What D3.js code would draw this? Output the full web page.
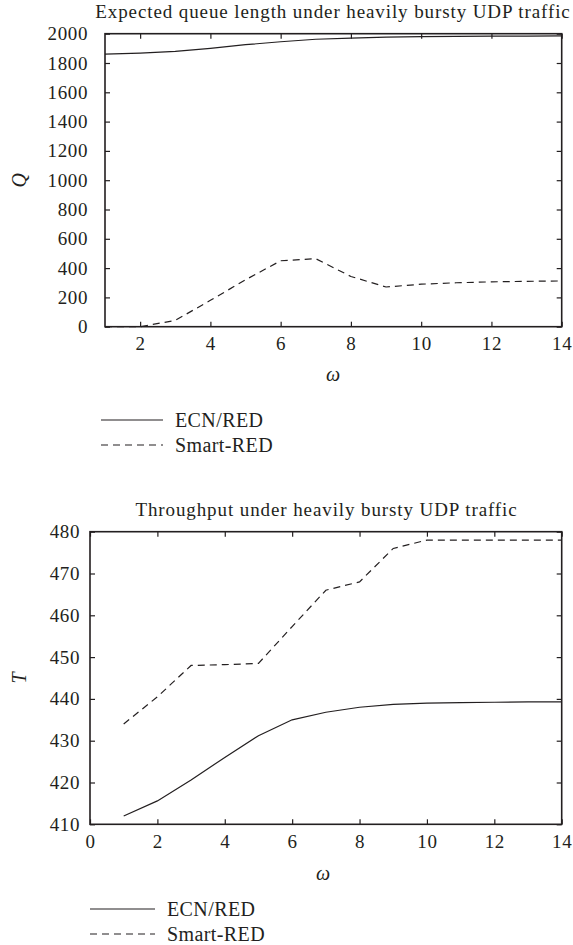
<!DOCTYPE html>
<html>
<head>
<meta charset="utf-8">
<script src="https://cdn.jsdelivr.net/npm/d3@7"></script>
<style>
  body { margin: 0; background: #fff; }
</style>
</head>
<body>
<div id="wrapper"></div>
<script>
// queue length chart
const omegaQ = [1, 2, 3, 4, 5, 6, 7, 8, 9, 10, 11, 12, 13, 14]
const queueEcn = [1860, 1868, 1880, 1900, 1925, 1945, 1962, 1970, 1977, 1980, 1982, 1983, 1984, 1985]
const queueSmart = [0, 0, 43, 180, 320, 450, 464, 343, 271, 290, 300, 306, 310, 312]
const queueTicksY = [0, 200, 400, 600, 800, 1000, 1200, 1400, 1600, 1800, 2000]
const queueTicksX = [2, 4, 6, 8, 10, 12, 14]

// throughput chart
const omegaT = [1, 2, 3, 4, 5, 6, 7, 8, 9, 10, 11, 12, 13, 14]
const thrEcn = [412, 415.6, 420.6, 426, 431.2, 435, 436.8, 438, 438.7, 439, 439.1, 439.2, 439.3, 439.3]
const thrSmart = [434, 440.5, 448, 448.2, 448.5, 457.3, 466, 468, 476, 478, 478, 478, 478, 478]
const thrTicksY = [410, 420, 430, 440, 450, 460, 470, 480]
const thrTicksX = [0, 2, 4, 6, 8, 10, 12, 14]

const seriesNames = ["ECN/RED", "Smart-RED"]
const serif = "'Liberation Serif', 'DejaVu Serif', serif"
const ink = "#231f20"

const wrapper = d3.select("#wrapper")
  .append("svg")
    .attr("width", 573)
    .attr("height", 945)
    .style("font-family", serif)

function drawPanel(cfg) {
  const xScale = d3.scaleLinear().domain(cfg.xDomain).range([cfg.left, cfg.right])
  const yScale = d3.scaleLinear().domain(cfg.yDomain).range([cfg.bottom, cfg.top])
  const g = wrapper.append("g")
  const tickLen = 5

  // bottom axis, ticks pointing up into the plot
  const xAxis = g.append("g")
    .attr("transform", `translate(0,${cfg.bottom})`)
    .call(d3.axisBottom(xScale).tickValues(cfg.xTicks).tickSize(-tickLen).tickPadding(10).tickFormat(d3.format("d")))
  // left axis, ticks pointing right
  const yAxis = g.append("g")
    .attr("transform", `translate(${cfg.left},0)`)
    .call(d3.axisLeft(yScale).tickValues(cfg.yTicks).tickSize(-tickLen).tickPadding(cfg.yPad).tickFormat(d3.format("d")))
  // mirror ticks on top and right
  const xTop = g.append("g")
    .attr("transform", `translate(0,${cfg.top})`)
    .call(d3.axisTop(xScale).tickValues(cfg.xTicks).tickSize(-tickLen).tickFormat(""))
  const yRight = g.append("g")
    .attr("transform", `translate(${cfg.right},0)`)
    .call(d3.axisRight(yScale).tickValues(cfg.yTicks).tickSize(-tickLen).tickFormat(""))

  ;[xAxis, yAxis, xTop, yRight].forEach(a => {
    a.attr("font-family", serif).attr("font-size", 19)
    a.select(".domain").remove()
    a.selectAll("line").attr("stroke", ink).attr("stroke-width", 1.2)
    a.selectAll("text").attr("fill", ink).style("letter-spacing", "0.6px")
  })

  g.append("rect")
    .attr("x", cfg.left).attr("y", cfg.top)
    .attr("width", cfg.right - cfg.left).attr("height", cfg.bottom - cfg.top)
    .attr("fill", "none").attr("stroke", ink).attr("stroke-width", 1.6)

  const line = d3.line().x(d => xScale(d[0])).y(d => yScale(d[1]))
  g.append("path")
    .attr("d", line(d3.zip(cfg.xs, cfg.ecn)))
    .attr("fill", "none").attr("stroke", ink).attr("stroke-width", 1.2)
  g.append("path")
    .attr("d", line(d3.zip(cfg.xs, cfg.smart)))
    .attr("fill", "none").attr("stroke", ink).attr("stroke-width", 1.2)
    .attr("stroke-dasharray", "7,5")

  g.append("text")
    .attr("x", cfg.titleX).attr("y", cfg.top - 16)
    .attr("text-anchor", "middle").attr("fill", ink)
    .style("font-size", "19px").style("letter-spacing", "0.9px")
    .text(cfg.title)

  g.append("text")
    .attr("transform", `translate(26,${(cfg.top + cfg.bottom) / 2}) rotate(-90)`)
    .attr("text-anchor", "middle").attr("fill", ink)
    .style("font-size", "20px").style("font-style", "italic")
    .text(cfg.yLabel)

  g.append("text")
    .attr("x", cfg.omegaX).attr("y", cfg.bottom + cfg.omegaDy)
    .attr("text-anchor", "middle").attr("fill", ink)
    .style("font-size", "20px").style("font-style", "italic")
    .text("ω")

  // legend
  seriesNames.forEach((name, i) => {
    const ly = cfg.legendY + i * 25
    g.append("line")
      .attr("x1", cfg.legendX).attr("x2", cfg.legendX + cfg.legendLen)
      .attr("y1", ly).attr("y2", ly)
      .attr("stroke", ink).attr("stroke-width", 1.2)
      .attr("stroke-dasharray", i === 0 ? null : "7,5")
    g.append("text")
      .attr("x", cfg.legendX + cfg.legendLen + 12).attr("y", ly + 7)
      .attr("fill", ink)
      .style("font-size", "20px").style("letter-spacing", "0.4px")
      .text(name)
  })
}

drawPanel({
  xDomain: [1, 14], yDomain: [0, 2000],
  left: 105, right: 561.7, top: 33.7, bottom: 326.7, yPad: 17,
  xTicks: queueTicksX, yTicks: queueTicksY,
  xs: omegaQ, ecn: queueEcn, smart: queueSmart,
  title: "Expected queue length under heavily bursty UDP traffic", titleX: 333,
  yLabel: "Q", omegaX: 333, omegaDy: 54,
  legendX: 101, legendLen: 62, legendY: 420
})

drawPanel({
  xDomain: [0, 14], yDomain: [410, 480],
  left: 90, right: 561.7, top: 531.7, bottom: 824.3, yPad: 10,
  xTicks: thrTicksX, yTicks: thrTicksY,
  xs: omegaT, ecn: thrEcn, smart: thrSmart,
  title: "Throughput under heavily bursty UDP traffic", titleX: 326.5,
  yLabel: "T", omegaX: 323, omegaDy: 56,
  legendX: 90, legendLen: 65, legendY: 909
})
</script>
</body>
</html>
